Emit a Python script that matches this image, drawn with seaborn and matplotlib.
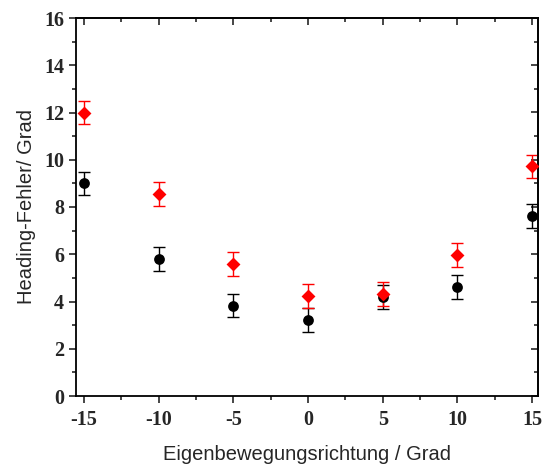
import matplotlib
matplotlib.use("Agg")
import matplotlib.pyplot as plt
import seaborn as sns
import pandas as pd
from matplotlib.ticker import MultipleLocator

x_vals = [-15, -10, -5, 0, 5, 10, 15]
black_vals = [9.0, 5.8, 3.83, 3.22, 4.2, 4.62, 7.62]
black_err = [0.5, 0.5, 0.5, 0.5, 0.5, 0.5, 0.5]
red_vals = [12.0, 8.55, 5.58, 4.22, 4.33, 5.97, 9.72]
red_err = [0.5, 0.5, 0.5, 0.5, 0.5, 0.5, 0.5]

sns.set_style("ticks")
plt.rcParams['font.family'] = ['Liberation Sans', 'DejaVu Sans']

fig = plt.figure(figsize=(5.44, 4.68), dpi=100)
ax = fig.add_axes([76/544, 1-396/468, (538-76)/544, (396-18)/468])

df_b = pd.DataFrame({"x": x_vals, "y": black_vals})
df_r = pd.DataFrame({"x": x_vals, "y": red_vals})

ax.errorbar(x_vals, black_vals, yerr=black_err, fmt='none', ecolor='black',
            elinewidth=1.0, capsize=4, capthick=1.0, zorder=2)
ax.errorbar(x_vals, red_vals, yerr=red_err, fmt='none', ecolor='red',
            elinewidth=1.0, capsize=4, capthick=1.0, zorder=2)
sns.scatterplot(data=df_b, x="x", y="y", ax=ax, color='black', marker='o',
                s=60, edgecolor='black', linewidth=0, zorder=3)
sns.scatterplot(data=df_r, x="x", y="y", ax=ax, color='red', marker='D',
                s=50, edgecolor='red', linewidth=0, zorder=3)

ax.set_xlim(-15.54, 15.4)
ax.set_ylim(0, 16)
ax.xaxis.set_major_locator(MultipleLocator(5))
ax.xaxis.set_minor_locator(MultipleLocator(2.5))
ax.yaxis.set_major_locator(MultipleLocator(2))
ax.yaxis.set_minor_locator(MultipleLocator(1))

for s in ax.spines.values():
    s.set_visible(True)
    s.set_linewidth(1.3)
    s.set_color('black')

ax.tick_params(axis='both', which='major', direction='out', length=5, width=1.2,
               top=False, right=False)
ax.tick_params(axis='both', which='minor', direction='out', length=3, width=1.2,
               top=False, right=False)
ax.tick_params(axis='x', which='major', pad=5)

# inward ticks on top and right
axt = ax.secondary_xaxis('top')
axt.set_xticks(x_vals)
axt.xaxis.set_minor_locator(MultipleLocator(2.5))
axt.tick_params(which='major', direction='in', length=5, width=1.2, labeltop=False)
axt.tick_params(which='minor', direction='in', length=3, width=1.2)
axt.spines['top'].set_linewidth(1.3)
axr = ax.secondary_yaxis('right')
axr.yaxis.set_major_locator(MultipleLocator(2))
axr.yaxis.set_minor_locator(MultipleLocator(1))
axr.tick_params(which='major', direction='in', length=5, width=1.2, labelright=False)
axr.tick_params(which='minor', direction='in', length=3, width=1.2)
axr.spines['right'].set_linewidth(1.3)

ax.set_xticks(x_vals)
ax.set_xticklabels([str(v) for v in x_vals])
for lab in ax.get_xticklabels() + ax.get_yticklabels():
    lab.set_fontfamily('Liberation Serif')
    lab.set_fontweight('bold')
    lab.set_fontsize(14.5)

ax.set_xlabel("Eigenbewegungsrichtung / Grad", fontsize=14.5, labelpad=11)
ax.set_ylabel("Heading-Fehler/ Grad", fontsize=14.5, labelpad=6)

fig.savefig("out.png", dpi=100)
